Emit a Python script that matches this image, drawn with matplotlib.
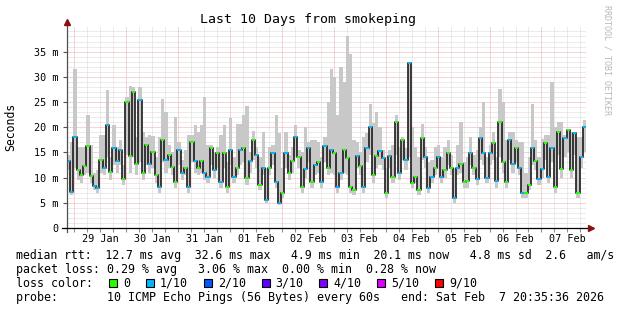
import matplotlib
matplotlib.use("Agg")
import matplotlib.pyplot as plt
import matplotlib.dates as mdates
from matplotlib.patches import Rectangle
import numpy as np
import pandas as pd

plt.rcParams['font.family'] = 'DejaVu Sans Mono'

# probe window: 10 days ending at the "end:" time, one value every 1.5 h
end_time = pd.Timestamp('2026-02-07 20:35:36')
start_time = end_time - pd.Timedelta(days=10)
step_hours = 1.5

# median rtt (ms)
median_ms = [13.3, 7.2, 18.0, 11.5, 10.6, 12.4, 16.2, 10.4, 8.4, 8.0,
             13.5, 12.0, 20.4, 11.2, 15.8, 13.3, 15.5, 9.8, 25.0, 14.3,
             27.0, 12.6, 25.3, 11.0, 16.5, 12.7, 15.0, 10.5, 8.1, 17.5,
             13.5, 14.5, 12.1, 9.2, 15.5, 11.0, 12.0, 8.1, 17.1, 13.2,
             12.0, 13.2, 10.9, 10.2, 15.9, 11.5, 14.9, 9.2, 14.9, 8.1,
             15.5, 10.2, 12.0, 15.5, 15.9, 10.0, 13.2, 17.5, 14.5, 8.5,
             12.0, 5.6, 12.0, 14.9, 9.2, 5.0, 7.0, 14.9, 10.9, 13.2,
             18.1, 14.1, 8.1, 11.7, 15.9, 9.2, 12.5, 13.0, 9.2, 16.2,
             12.0, 15.5, 14.9, 8.1, 10.9, 15.5, 13.9, 8.1, 7.5, 14.2,
             12.3, 8.1, 15.9, 20.1, 10.5, 14.2, 15.2, 13.9, 6.9, 14.2,
             10.2, 21.1, 10.9, 17.5, 13.5, 32.7, 8.9, 10.2, 7.5, 17.8,
             14.1, 8.0, 10.2, 12.0, 14.1, 10.2, 11.5, 14.9, 12.0, 5.9,
             12.0, 12.6, 9.2, 9.4, 14.9, 12.0, 9.8, 17.8, 14.9, 10.0,
             14.9, 16.9, 9.4, 21.1, 13.0, 9.2, 17.5, 12.7, 15.9, 12.0,
             6.9, 6.9, 8.5, 15.9, 13.3, 9.8, 11.7, 16.9, 10.2, 15.9,
             8.1, 19.1, 11.7, 17.8, 19.4, 11.5, 18.8, 6.9, 14.1, 20.1]

# smoke: slowest ping of each step (top of the grey)
smoke_top_ms = [14.5, 17.0, 31.5, 16.0, 16.0, 16.0, 22.5, 16.5, 11.0, 11.5,
                18.5, 18.5, 27.4, 14.0, 20.5, 16.0, 17.5, 12.5, 26.0, 28.2,
                28.0, 18.0, 28.0, 19.0, 18.0, 18.5, 18.3, 14.0, 18.0, 25.6,
                23.0, 16.5, 15.0, 22.0, 17.0, 13.5, 15.5, 18.5, 18.5, 20.4,
                19.0, 20.4, 26.0, 16.5, 16.5, 15.0, 16.0, 18.5, 20.5, 13.0,
                21.8, 14.0, 20.7, 20.7, 22.5, 24.3, 15.0, 19.2, 16.0, 14.0,
                19.0, 12.0, 16.0, 16.5, 22.4, 18.8, 12.0, 19.0, 14.5, 16.0,
                20.4, 15.5, 15.0, 20.0, 17.0, 17.5, 17.5, 17.0, 14.0, 18.0,
                25.0, 31.5, 30.0, 22.5, 32.0, 29.0, 38.0, 34.5, 17.5, 17.0,
                15.0, 18.0, 18.8, 24.6, 20.8, 23.0, 20.0, 15.5, 12.0, 15.5,
                16.5, 22.4, 16.0, 18.0, 15.8, 33.0, 20.0, 16.0, 14.0, 20.6,
                16.0, 13.0, 13.5, 16.0, 16.5, 14.0, 16.0, 17.5, 14.5, 12.0,
                16.5, 21.0, 13.0, 14.0, 18.0, 14.5, 15.5, 20.0, 25.0, 14.0,
                16.5, 19.0, 14.0, 27.6, 25.0, 17.5, 19.0, 19.0, 17.5, 17.0,
                17.0, 11.0, 14.0, 24.6, 17.5, 14.0, 17.6, 18.5, 18.5, 29.0,
                20.0, 21.0, 21.0, 18.5, 19.5, 19.0, 19.0, 18.0, 18.0, 21.4]

# smoke: fastest ping of each step (bottom of the grey)
smoke_bottom_ms = [11.5, 6.5, 12.0, 9.5, 9.0, 10.5, 11.0, 9.0, 7.5, 7.0,
                   11.0, 10.5, 14.0, 9.5, 12.5, 11.0, 12.5, 8.5, 14.5, 11.0,
                   14.0, 10.5, 13.0, 9.5, 12.5, 11.0, 12.0, 9.0, 7.0, 13.0,
                   11.0, 12.0, 10.5, 8.0, 12.5, 9.5, 10.5, 7.0, 13.0, 11.0,
                   10.5, 11.0, 9.5, 9.0, 12.5, 10.0, 12.0, 8.0, 12.0, 7.0,
                   12.5, 9.0, 10.5, 12.5, 13.0, 8.5, 11.0, 13.5, 12.0, 7.5,
                   10.5, 5.0, 10.5, 12.5, 8.0, 4.5, 6.0, 12.0, 9.5, 11.0,
                   14.0, 12.0, 7.0, 10.0, 13.0, 8.0, 10.5, 11.0, 8.0, 13.0,
                   10.5, 11.0, 10.5, 7.0, 9.5, 11.0, 10.5, 7.0, 6.5, 12.0,
                   10.5, 7.0, 13.0, 14.5, 9.0, 12.0, 12.5, 11.5, 6.0, 12.0,
                   9.0, 14.5, 9.5, 13.5, 11.5, 14.0, 8.0, 9.0, 6.5, 13.5,
                   12.0, 7.0, 9.0, 10.5, 12.0, 9.0, 10.0, 12.5, 10.5, 5.0,
                   10.5, 11.0, 8.0, 8.0, 12.5, 10.5, 8.5, 13.5, 12.5, 9.0,
                   12.5, 13.5, 8.0, 14.0, 11.0, 8.0, 13.5, 11.0, 13.0, 10.5,
                   6.0, 6.0, 7.5, 12.5, 11.5, 8.5, 10.0, 13.5, 9.0, 13.0,
                   7.0, 14.5, 10.0, 14.0, 15.0, 10.0, 14.5, 6.0, 12.0, 15.0]

# lost pings out of 10 for each step
loss_tenths = [1, 1, 1, 0, 0, 0, 0, 0, 1, 1,
               0, 1, 1, 0, 1, 1, 1, 0, 0, 0,
               0, 0, 1, 0, 0, 1, 0, 0, 1, 0,
               1, 0, 0, 0, 1, 1, 0, 1, 0, 1,
               0, 0, 1, 1, 0, 1, 0, 1, 0, 0,
               1, 1, 0, 1, 0, 0, 1, 0, 1, 0,
               1, 1, 0, 1, 1, 1, 0, 1, 0, 0,
               1, 0, 0, 1, 1, 0, 1, 0, 1, 1,
               0, 1, 0, 1, 1, 0, 0, 0, 0, 1,
               0, 1, 1, 1, 0, 0, 1, 1, 0, 1,
               0, 0, 1, 0, 1, 1, 0, 0, 0, 0,
               1, 1, 1, 0, 1, 1, 0, 0, 0, 1,
               1, 0, 0, 0, 1, 0, 1, 1, 1, 1,
               1, 0, 1, 0, 0, 0, 1, 1, 0, 1,
               1, 0, 0, 1, 0, 1, 1, 0, 1, 1,
               0, 0, 0, 1, 0, 0, 1, 0, 1, 1]

loss_keys = [0, 1, 2, 3, 4, 5, 9]
loss_labels = ['0', '1/10', '2/10', '3/10', '4/10', '5/10', '9/10']
loss_hex = ['#26ff00', '#00b8ff', '#0059ff', '#5e00ff', '#7e00ff', '#dd00ff', '#ff0000']
loss_colors = dict(zip(loss_keys, loss_hex))

legend_lines = [
    "median rtt:  12.7 ms avg  32.6 ms max   4.9 ms min  20.1 ms now   4.8 ms sd  2.6   am/s",
    "packet loss: 0.29 % avg   3.06 % max  0.00 % min  0.28 % now",
    "loss color:",
    "probe:       10 ICMP Echo Pings (56 Bytes) every 60s   end: Sat Feb  7 20:35:36 2026",
]
legend_sizes = [8.3, 8.35, 8.35, 8.35]

W, H = 617, 310
fig = plt.figure(figsize=(W / 100, H / 100), dpi=100)
fig.patch.set_facecolor('white')

# plot area in pixels
px_left, px_right, px_bottom, px_top = 67, 586, 228, 26.4
ax = fig.add_axes([px_left / W, 1 - px_bottom / H,
                   (px_right - px_left) / W, (px_bottom - px_top) / H])
ax.set_facecolor('white')
for s in ax.spines.values():
    s.set_visible(False)

edges = pd.date_range(start_time, periods=len(median_ms) + 1,
                      freq=pd.Timedelta(hours=step_hours))
xe = mdates.date2num(edges.to_pydatetime())
ax.set_xlim(xe[0], xe[-1])
ax.set_ylim(0, 40)

# grid: minor every 1 ms / 6 h, major every 5 ms / midnight
dot = (0, (1, 1))
six_hours = pd.date_range(start_time.ceil('6h'), end_time, freq='6h')
midnights = [t for t in six_hours if t.hour == 0]
for v in range(1, 40):
    if v % 5:
        ax.axhline(v, color='#d8d8d8', lw=0.72, ls=dot, zorder=0)
for t in six_hours:
    if t.hour != 0:
        ax.axvline(mdates.date2num(t.to_pydatetime()), color='#d8d8d8', lw=0.72, ls=dot, zorder=0)
for v in range(5, 40, 5):
    ax.axhline(v, color='#eeaaaa', lw=0.72, ls=dot, zorder=1)
for t in midnights:
    ax.axvline(mdates.date2num(t.to_pydatetime()), color='#eeaaaa', lw=0.72, ls=dot, zorder=1)

# smoke
top_e = np.r_[smoke_top_ms, smoke_top_ms[-1]]
bot_e = np.r_[smoke_bottom_ms, smoke_bottom_ms[-1]]
ax.fill_between(xe, bot_e, top_e, step='post', color='#c8c8c8', lw=0, zorder=2)

# median line, black risers with loss-coloured levels
ax.plot(xe, np.r_[median_ms, median_ms[-1]], drawstyle='steps-post',
        color='#1c1c1c', lw=1.2, zorder=3)
ax.hlines(median_ms, xe[:-1], xe[1:],
          colors=[loss_colors[k] for k in loss_tenths], lw=1.4, zorder=4)

# axes with arrows
ax.plot([0, 0], [-0.02, 1.012], transform=ax.transAxes, color='#505050',
        lw=0.9, clip_on=False, zorder=5)
ax.plot([0], [1.022], marker='^', ms=4.5, color='#8b1010', mec='#8b1010',
        transform=ax.transAxes, clip_on=False, zorder=5)
ax.plot([-0.0096, 1.006], [0, 0], transform=ax.transAxes, color='black',
        lw=0.9, clip_on=False, zorder=5)
ax.plot([1.0105], [0], marker='>', ms=4.5, color='#8b1010', mec='#8b1010',
        transform=ax.transAxes, clip_on=False, zorder=5)

# ticks
yt = list(range(0, 40, 5))
ax.set_yticks(yt)
ax.set_yticklabels(['0'] + ['%d m' % v for v in yt[1:]])
noons = pd.date_range('2026-01-29 12:00', '2026-02-07 12:00', freq='D')
ax.set_xticks(mdates.date2num(noons.to_pydatetime()))
ax.set_xticklabels([t.strftime('%d %b') for t in noons])
ax.set_xticks(mdates.date2num(six_hours.to_pydatetime()), minor=True)
ax.tick_params(axis='y', length=3, width=0.8, pad=3, labelsize=7.3, color='#505050')
ax.tick_params(axis='x', which='both', length=3, width=0.8, pad=1.5,
               labelsize=7.3, color='#909090')

# texts
fig.text(308 / W, 1 - 20 / H, 'Last 10 Days from smokeping', ha='center',
         va='center', fontsize=9.5)
fig.text(11 / W, 1 - 127 / H, 'Seconds', rotation=90, ha='center',
         va='center', fontsize=8.3)
fig.text(607 / W, 1 - 60 / H, 'RRDTOOL / TOBI OETIKER', rotation=270,
         ha='center', va='center', fontsize=6, color='#b8b8b8')

baselines = [258.7, 272.7, 286.7, 300.7]
for line, yb, fs in zip(legend_lines, baselines, legend_sizes):
    fig.text(16 / W, 1 - yb / H, line, ha='left', va='baseline', fontsize=fs)

# loss colour boxes
cw = 6.95
x = 109.0
for key, lab in zip(loss_keys, loss_labels):
    fig.patches.append(Rectangle((x / W, 1 - 286.7 / H), 8 / W, 8 / H,
                                 transform=fig.transFigure, facecolor=loss_colors[key],
                                 edgecolor='black', lw=0.8))
    fig.text((x + 14) / W, 1 - 286.7 / H, lab, ha='left', va='baseline', fontsize=8.35)
    x = x + 14 + len(lab) * cw + 16

fig.savefig('out.png', dpi=100, facecolor='white')
